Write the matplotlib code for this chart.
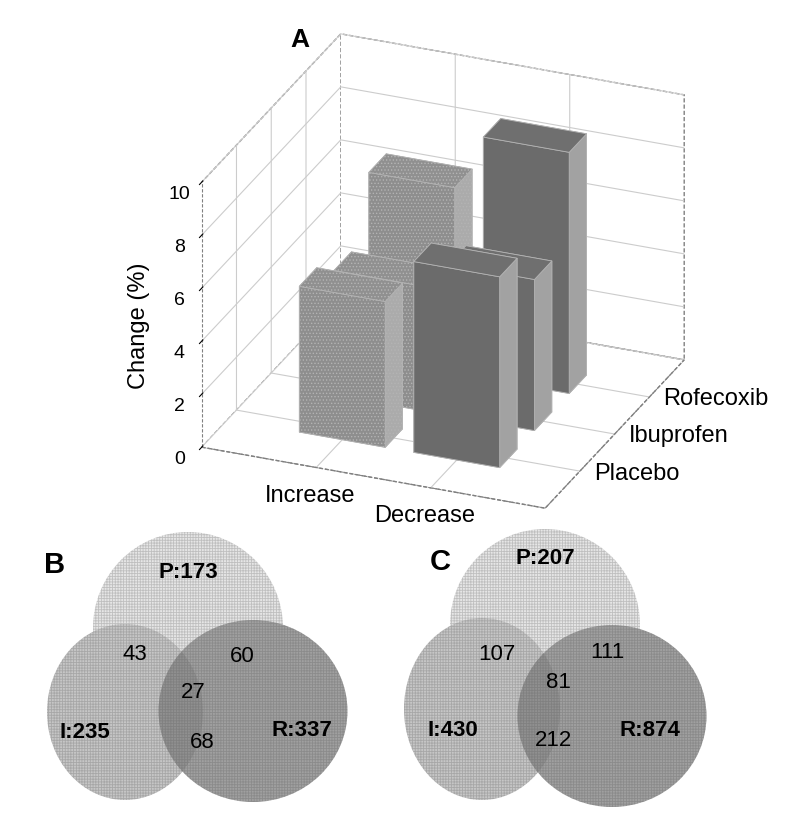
import matplotlib
matplotlib.use("Agg")
import matplotlib.pyplot as plt
import numpy as np
from matplotlib.patches import Ellipse
from mpl_toolkits.mplot3d import proj3d

plt.rcParams['font.family'] = ['Liberation Sans', 'DejaVu Sans']
plt.rcParams['hatch.color'] = '#7c7c7c'
plt.rcParams['hatch.linewidth'] = 0.6

####################################################################################
## data

changes = ["Increase", "Decrease"]
groups = ["Placebo", "Ibuprofen", "Rofecoxib"]
increase_pct = [5.5, 4.7, 7.0]
decrease_pct = [7.2, 5.7, 9.1]
z_ticks = [0, 2, 4, 6, 8, 10]

set_letters = ["P", "I", "R"]
venn_b_totals = [173, 235, 337]      # P, I, R
venn_b_pairs = [43, 60, 68]          # P&I, P&R, I&R
venn_b_all = 27
venn_c_totals = [207, 430, 874]
venn_c_pairs = [107, 111, 212]
venn_c_all = 81

####################################################################################
## layout (pixel coordinates of the 800x831 picture)

# ellipse centre x, centre y, width, height for P, I, R
shapes_b = [(188, 628, 190, 192), (125, 712, 156, 176), (253, 711, 189, 182)]
shapes_c = [(545, 625, 190, 192), (482, 709, 156, 182), (612, 716, 189, 182)]
# text spots: totals P, I, R, then pairs PI, PR, IR, then all three
spots_b = [(188, 572), (85, 732), (302, 730), (135, 655), (242, 657), (202, 743), (193, 692)]
spots_c = [(545, 558), (453, 730), (650, 730), (497, 655), (607, 652), (554, 741), (558, 683)]

circle_fill = ['#e6e6e6', '#c6c6c6', '#a0a0a0']
edge_dash = (0, (3, 1.5))


def draw_bars(ax):
    dx, dy = 0.75, 0.5
    # faces: bottom, top, front(-y), back(+y), left(-x), right(+x)
    inc_cols = ['#8e8e8e', '#909090', '#8e8e8e', '#8e8e8e', '#8e8e8e', '#ababab']
    dec_cols = ['#6b6b6b', '#6f6f6f', '#6b6b6b', '#6b6b6b', '#6b6b6b', '#a2a2a2']
    for j in reversed(range(len(groups))):
        for i, (vals, cols) in enumerate([(increase_pct, inc_cols), (decrease_pct, dec_cols)]):
            ax.bar3d(i + 1 - dx / 2, j + 1 - dy / 2, 0, dx, dy, vals[j],
                     color=cols, shade=False, edgecolor='#b4b4b4', linewidth=0.6,
                     hatch='.....' if i == 0 else None)


def draw_venn(ax, shapes, totals, pairs, both_all, spots):
    patches = []
    for (cx, cy, w, h), fc in zip(shapes, circle_fill):
        e = Ellipse((cx, cy), w, h, facecolor=fc, lw=0)
        ax.add_patch(e)
        ax.add_patch(Ellipse((cx, cy), w, h, facecolor='none', edgecolor=(0.3, 0.3, 0.3, 0.25),
                             hatch='++++++', lw=0))
        patches.append(e)
    # I and R overlap shows darker
    cx, cy, w, h = shapes[1]
    over = Ellipse((cx, cy), w, h, facecolor='#5a5a5a', alpha=0.22, lw=0)
    ax.add_patch(over)
    over.set_clip_path(patches[2])
    for k in range(3):
        ax.text(*spots[k], f"{set_letters[k]}:{totals[k]}", fontsize=16, fontweight='bold',
                ha='center', va='center')
    for k in range(3):
        ax.text(*spots[3 + k], str(pairs[k]), fontsize=16, ha='center', va='center')
    ax.text(*spots[6], str(both_all), fontsize=16, ha='center', va='center')


####################################################################################
## figure

fig = plt.figure(figsize=(8, 8.31), dpi=100)

cx, cy, w, h = 0.545, 0.6655, 0.9, 0.62
ax = fig.add_axes([cx - w / 2, cy - h / 2, w, h], projection='3d', computed_zorder=False)
ax.view_init(elev=25.8, azim=-67.8)
ax.set_proj_type('ortho')
ax.set_box_aspect((1.26, 1.25, 1.0), zoom=1.13)
ax.set_xlim(0, 3)
ax.set_ylim(0, 4)
ax.set_zlim(0, 10)

for a in (ax.xaxis, ax.yaxis, ax.zaxis):
    a.set_pane_color((1, 1, 1, 1))
    a.pane.set_edgecolor('#808080')
    a.pane.set_linestyle(edge_dash)
    a.line.set_color('#808080')
    a.line.set_linestyle(edge_dash)
    a._axinfo['grid'].update(color='#cccccc', linewidth=0.8)
ax.xaxis._axinfo['tick'].update(inward_factor=0, outward_factor=0)
ax.yaxis._axinfo['tick'].update(inward_factor=0, outward_factor=0)
ax.zaxis.set_ticks_position('lower')
ax.zaxis.set_label_position('lower')

draw_bars(ax)

ax.set_xticks([1, 2])
ax.set_xticklabels(changes, fontsize=17)
ax.set_yticks([1, 2, 3])
ax.yaxis.set_tick_params(label1On=False, label2On=False)
ax.set_zticks(z_ticks)
ax.set_zticklabels([str(v) for v in z_ticks], fontsize=14)
ax.set_zlabel('Change (%)', fontsize=17)
ax.tick_params(axis='x', pad=0)
ax.tick_params(axis='z', pad=1)

# depth labels sit just right of where each grid line meets the floor edge
fig.canvas.draw()
proj = ax.get_proj()
for k, name in enumerate(groups):
    xp, yp, _ = proj3d.proj_transform(3.12, k + 1, 0, proj)
    ax.text2D(xp, yp, name, transform=ax.transData, fontsize=17, ha='left', va='center')

fig.text(300 / 800, 1 - 40 / 831, 'A', fontsize=19, fontweight='bold', ha='center', va='center')

vax = fig.add_axes([0, 0, 1, 310 / 831])
vax.set_xlim(0, 800)
vax.set_ylim(831, 521)
vax.axis('off')
draw_venn(vax, shapes_b, venn_b_totals, venn_b_pairs, venn_b_all, spots_b)
draw_venn(vax, shapes_c, venn_c_totals, venn_c_pairs, venn_c_all, spots_c)
vax.text(55, 565, 'B', fontsize=21, fontweight='bold', ha='center', va='center')
vax.text(440, 562, 'C', fontsize=21, fontweight='bold', ha='center', va='center')

fig.savefig('out.png', dpi=100)
